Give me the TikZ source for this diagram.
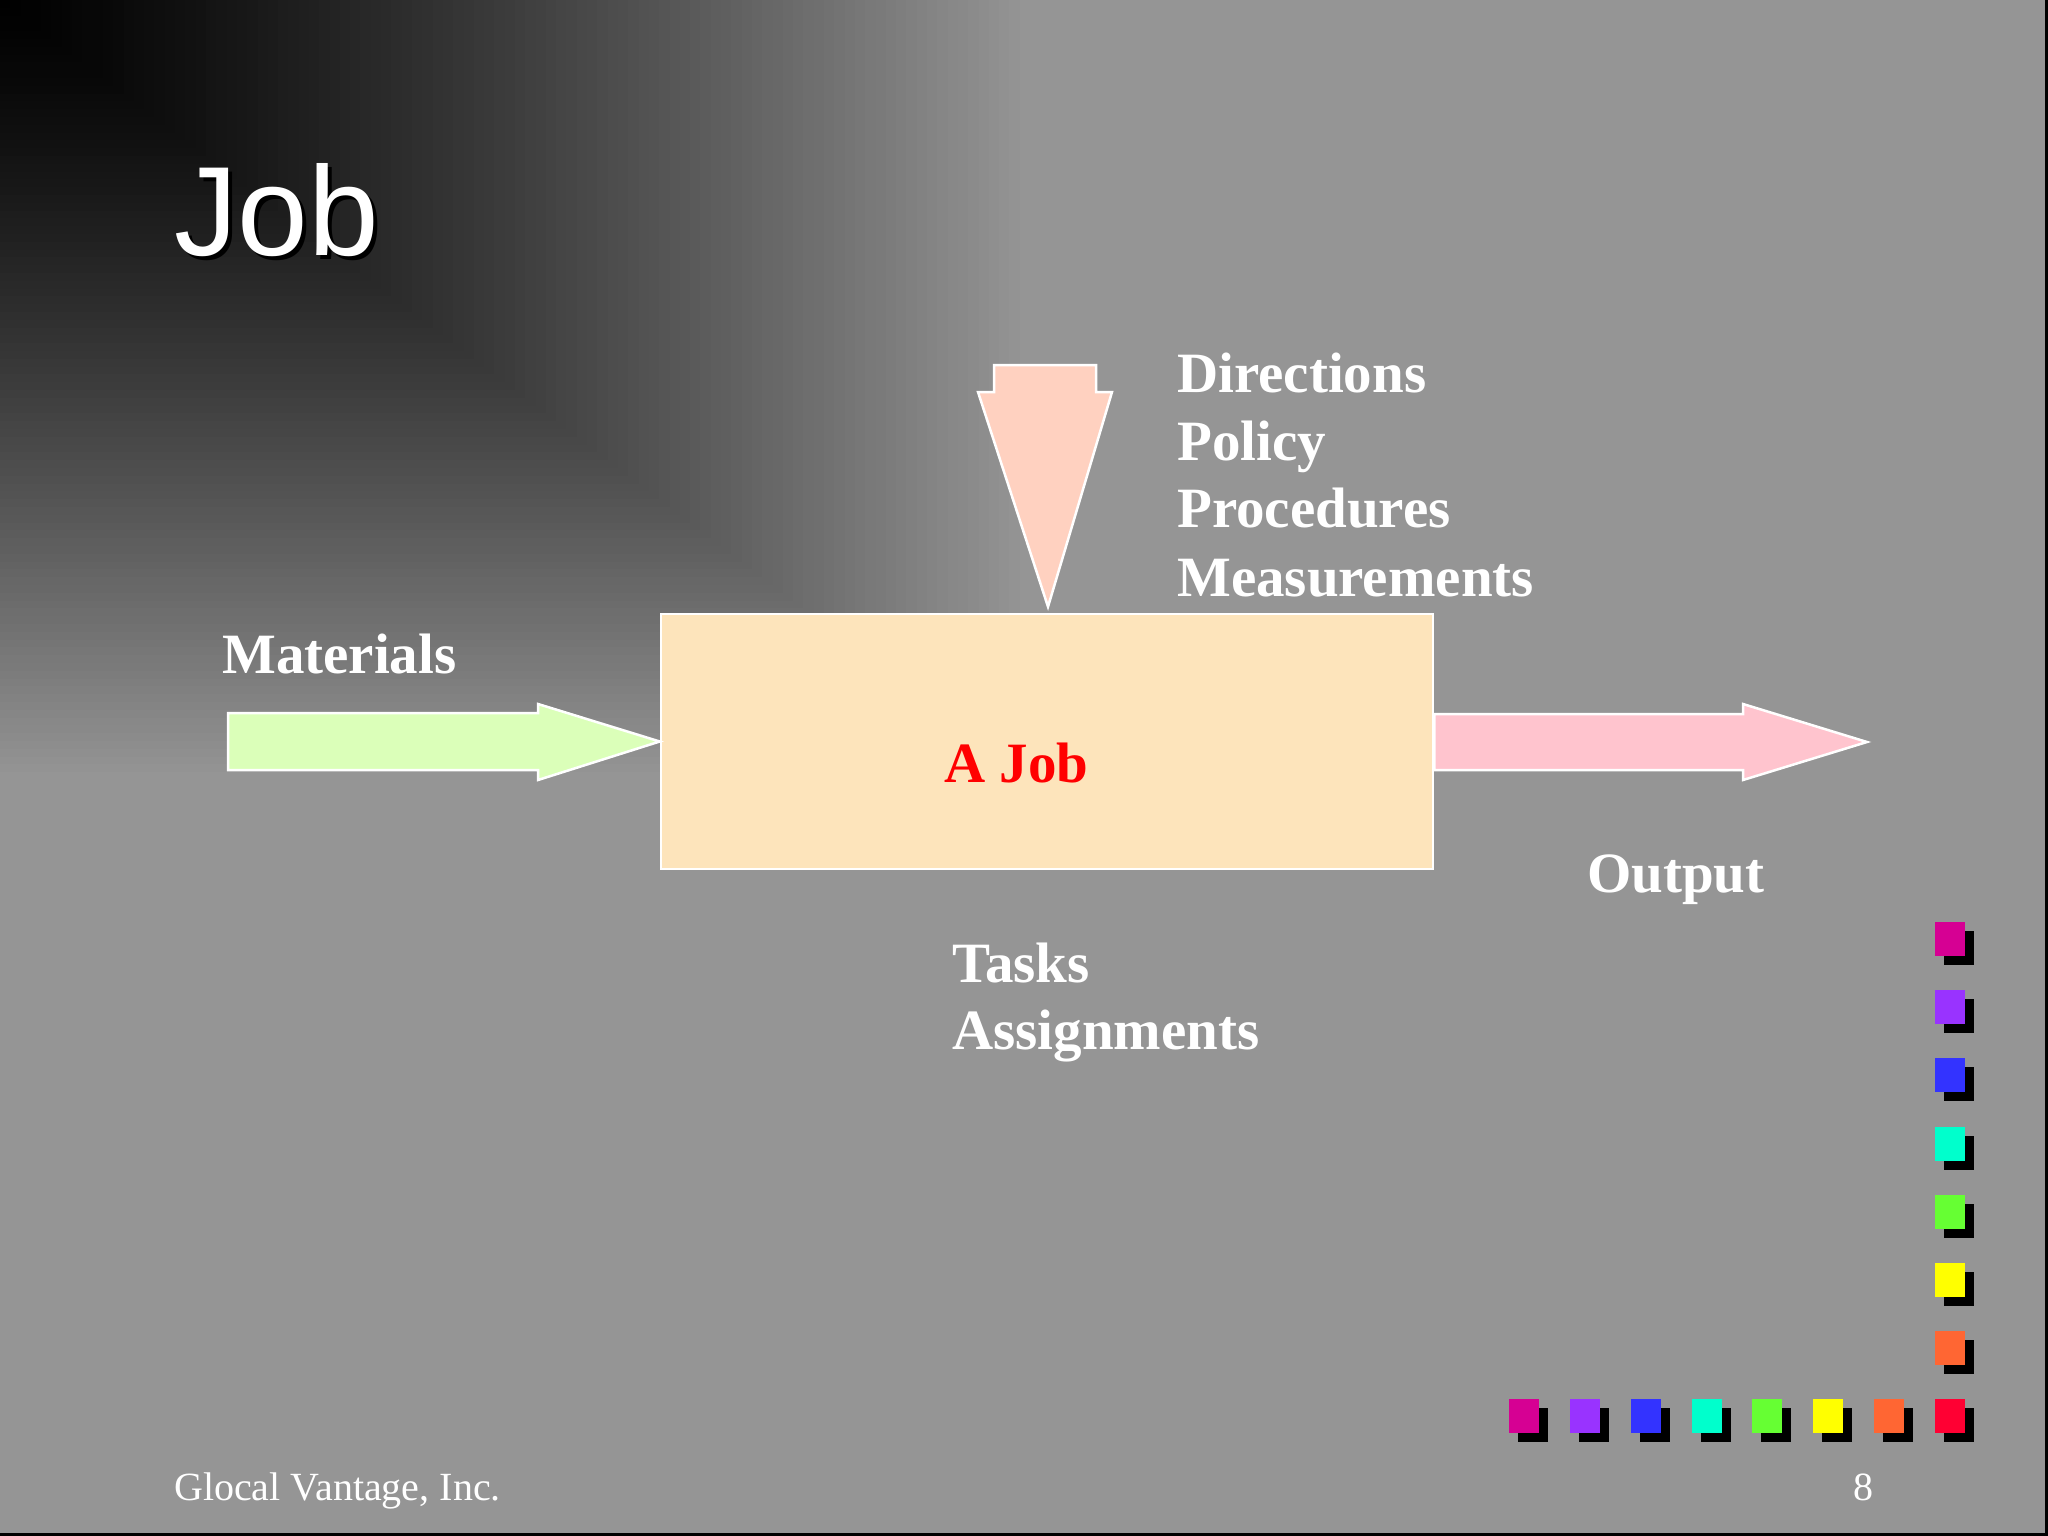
\documentclass[tikz,border=0pt]{standalone}
\usepackage{fontspec}
\setmainfont{Liberation Serif}
\newfontfamily\arialf{Liberation Sans}
\usetikzlibrary{calc}
\definecolor{bg}{RGB}{149,149,149}
\definecolor{boxc}{HTML}{FDE4BB}
\definecolor{inc}{HTML}{DBFFB9}
\definecolor{topc}{HTML}{FFD1C0}
\definecolor{outc}{HTML}{FFC4CE}
\definecolor{sqA}{HTML}{D60093}
\definecolor{sqB}{HTML}{9933FF}
\definecolor{sqC}{HTML}{3333FF}
\definecolor{sqD}{HTML}{00FFCC}
\definecolor{sqE}{HTML}{66FF33}
\definecolor{sqF}{HTML}{FFFF00}
\definecolor{sqG}{HTML}{FF6633}
\definecolor{sqH}{HTML}{FF0033}
\tikzset{
  lbl/.style={anchor=base west, inner sep=0pt, text=white, font=\fontsize{57}{68}\selectfont\bfseries},
  foot/.style={inner sep=0pt, text=white, font=\fontsize{40}{48}\selectfont},
  blockarrow/.style={draw=white, line width=2.5pt, line join=miter},
}
\begin{document}
\begin{tikzpicture}[x=1pt,y=-1pt]
\useasboundingbox (0,0) rectangle (2048,1536);
% background
\fill[bg] (0,0) rectangle (2048,1536);
\foreach \i in {100,99,...,1}{
  \pgfmathsetmacro\tt{\i/100}
  \pgfmathsetmacro\pp{100*(\tt)^1.3}
  \fill[bg!\pp!black] (0,0) rectangle ({1030*\tt},{780*\tt});
}
% frame lines (right and bottom)
\fill[black] (0,1533) rectangle (2048,1536);
\fill[black] (2045,0) rectangle (2048,1536);

% title
\node[anchor=base west, inner sep=0pt, text=black, font=\fontsize{127}{150}\selectfont\arialf] (titleshadow) at (178,259) {Job};
\node[anchor=base west, inner sep=0pt, text=white, font=\fontsize{127}{150}\selectfont\arialf] (title) at (174,255) {Job};

% central box
\node[draw=white, line width=2.5pt, fill=boxc, minimum width=772pt, minimum height=255pt, inner sep=0pt] (box) at (1047,741.5) {};
\node[anchor=base west, inner sep=0pt, text=red, font=\fontsize{57}{68}\selectfont\bfseries] (ajob) at (944,782) {A Job};

% input arrow
\draw[blockarrow, fill=inc] (228,713) -- (538,713) -- (538,704) -- (box.west) -- (538,780) -- (538,770) -- (228,770) -- cycle;
% output arrow
\draw[blockarrow, fill=outc] (box.east |- 0,714) -- (1743,714) -- (1743,704) -- (1867,742) -- (1743,780) -- (1743,770) -- (box.east |- 0,770) -- cycle;
% top arrow
\draw[blockarrow, fill=topc] (994,365) -- (1096,365) -- (1096,392) -- (1112,392) -- ($(box.north)+(1,-6)$) -- (978,392) -- (994,392) -- cycle;

% labels
\node[lbl] (materials) at (222,673) {Materials};
\node[lbl] (dir1) at (1177,392) {Directions};
\node[lbl] (dir2) at (1177,460) {Policy};
\node[lbl] (dir3) at (1177,527) {Procedures};
\node[lbl] (dir4) at (1177,596) {Measurements};
\node[lbl] (output) at (1587,892) {Output};
\node[lbl] (tasks) at (952,982) {Tasks};
\node[lbl] (assign) at (952,1049) {Assignments};

% footer
\node[foot, anchor=base west] (company) at (174,1500) {Glocal Vantage, Inc.};
\node[foot, anchor=base] (pagenum) at (1863,1500) {8};

% decorative squares: column
\foreach \c [count=\k from 0] in {sqA,sqB,sqC,sqD,sqE,sqF,sqG}{
  \pgfmathsetmacro\yy{922+68.2*\k}
  \fill[black] (1944,\yy+9) rectangle ++(30,34);
  \fill[\c] (1935,\yy) rectangle ++(30,34);
}
% bottom row
\foreach \c [count=\k from 0] in {sqA,sqB,sqC,sqD,sqE,sqF,sqG,sqH}{
  \pgfmathsetmacro\xx{1509+60.85*\k}
  \fill[black] (\xx+9,1408) rectangle ++(30,34);
  \fill[\c] (\xx,1399) rectangle ++(30,34);
}
\end{tikzpicture}
\end{document}
